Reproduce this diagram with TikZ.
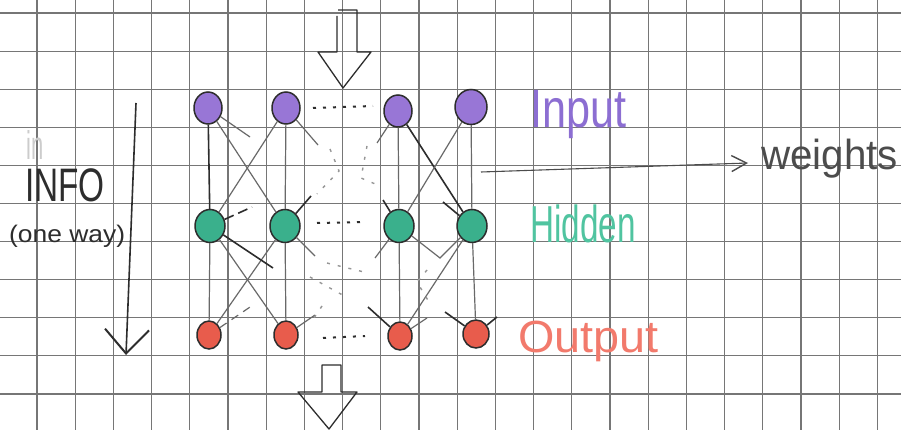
\documentclass[tikz,border=0pt]{standalone}
\usepackage{fontspec}
\setmainfont{Liberation Sans}
\usetikzlibrary{shapes.geometric,arrows.meta}

\definecolor{gridgray}{RGB}{118,118,118}
\definecolor{penink}{RGB}{45,45,45}
\definecolor{pencil}{RGB}{105,105,105}
\definecolor{inpfill}{RGB}{152,118,214}
\definecolor{hidfill}{RGB}{58,176,140}
\definecolor{outfill}{RGB}{232,92,76}
\definecolor{inptext}{RGB}{140,110,210}
\definecolor{hidtext}{RGB}{80,196,160}
\definecolor{outtext}{RGB}{242,122,108}

\tikzset{
  gridline/.style={draw=gridgray,line width=1.1pt},
  neuron/.style={ellipse,draw=penink,line width=1.5pt,inner sep=0pt},
  inp/.style={neuron,fill=inpfill,minimum width=28pt,minimum height=32pt},
  hid/.style={neuron,fill=hidfill,minimum width=30pt,minimum height=33pt},
  outn/.style={neuron,fill=outfill,minimum width=24pt,minimum height=28pt},
  wdark/.style={draw=penink,line width=1.6pt},
  wgray/.style={draw=pencil,line width=1.2pt},
  wdots/.style={draw=penink,line width=2pt,dash pattern=on 3pt off 7pt},
  wfaint/.style={draw=pencil!70,line width=1.4pt,dash pattern=on 3pt off 8pt},
  blockarrow/.style={draw=penink,line width=1.3pt,line join=round},
  label/.style={anchor=base west,inner sep=0pt},
}

\begin{document}
\begin{tikzpicture}[x=1pt,y=-1pt]
\useasboundingbox (0,0) rectangle (901,430);
\fill[white] (0,0) rectangle (901,430);

% squared paper
\foreach \i in {0,...,22} \draw[gridline] ({37+38.2*\i},0) -- ({37+38.2*\i},430);
\foreach \j in {0,...,11} \draw[gridline] (0,{13+38.1*\j}) -- (901,{13+38.1*\j});

% neurons
\node[inp] (i1) at (208,108) {};
\node[inp] (i2) at (286,108) {};
\node[inp] (i3) at (398,111) {};
\node[inp,minimum width=32pt,minimum height=35pt] (i4) at (471,107) {};
\node[hid] (h1) at (210,226) {};
\node[hid] (h2) at (285,226) {};
\node[hid] (h3) at (399,226) {};
\node[hid] (h4) at (472,226) {};
\node[outn] (o1) at (209,335) {};
\node[outn] (o2) at (286,335) {};
\node[outn] (o3) at (400,336) {};
\node[outn,minimum width=26pt] (o4) at (476,334) {};

% loose ends of the unfinished weight strokes
\coordinate (s1) at (250,137);
\coordinate (s2) at (318,145);
\coordinate (s3) at (377,143);
\coordinate (s4) at (383,200);
\coordinate (s5) at (252,207);
\coordinate (s6) at (311,196);
\coordinate (s7) at (443,202);
\coordinate (t1) at (273,268);
\coordinate (t2) at (315,256);
\coordinate (t3) at (375,258);
\coordinate (t4) at (440,258);
\coordinate (t6) at (368,307);
\coordinate (t7) at (445,312);
\coordinate (t8) at (253,305);
\coordinate (t9) at (315,315);
\coordinate (t10) at (427,318);
\coordinate (t11) at (497,317);

% input -> hidden weights
\draw[wdark] (i1) -- (h1);
\draw[wgray] (i1) -- (h2);
\draw[wgray] (i2) -- (h1);
\draw[wgray] (i2) -- (h2);
\draw[wgray] (i3) -- (h3);
\draw[wdark] (i3) -- (h4);
\draw[wgray] (i4) -- (h3);
\draw[wgray] (i4) -- (h4);
\draw[wgray] (i1) -- (s1);
\draw[wgray] (i2) -- (s2);
\draw[wgray] (i3) -- (s3);
\draw[wdark] (s4) -- (h3);
\draw[wdark,dash pattern=on 10pt off 5pt] (h1) -- (s5);
\draw[wdark] (h2) -- (s6);
\draw[wdark] (s7) -- (h4);

% hidden -> output weights
\draw[wgray] (h1) -- (o1);
\draw[wgray] (h1) -- (o2);
\draw[wgray] (h2) -- (o1);
\draw[wgray] (h2) -- (o2);
\draw[wgray] (h3) -- (o3);
\draw[wgray] (h4) -- (o3);
\draw[wgray] (h4) -- (o4);
\draw[wdark] (h1) -- (t1);
\draw[wgray] (h2) -- (t2);
\draw[wgray] (h3) -- (t3);
\draw[wgray] (h3) -- (t4) -- (h4);
\draw[wdark] (t6) -- (o3);
\draw[wdark] (t7) -- (o4);
\draw[wgray,dash pattern=on 8pt off 6pt] (o1) -- (t8);
\draw[wgray] (o2) -- (t9);
\draw[wgray] (o3) -- (t10);
\draw[wdark] (o4) -- (t11);

% elided neurons between the columns
\draw[wdots] (313,108) -- (373,106);
\draw[wdots] (317,223) -- (366,222);
\draw[wdots] (323,338) -- (365,336);

% elided weights in the middle
\draw[wfaint] (330,149) -- (339,171) -- (317,194);
\draw[wfaint] (367,146) -- (361,178) -- (380,186);
\draw[wfaint] (327,263) -- (364,272);
\draw[wfaint] (310,277) -- (348,298);
\draw[wfaint] (322,306) -- (314,318);
\draw[wfaint] (427,270) -- (417,282) -- (429,302);

% data flow block arrows
\draw[blockarrow] (337,16) -- (337,52) -- (318,52) -- (343,88) -- (371,52) -- (357,52) -- (357,10) -- (338,10);
\draw[blockarrow] (322,392) -- (322,365) -- (341,365) -- (341,392) -- (357,392) -- (329,429) -- (298,392) -- cycle;

% direction of information flow
\coordinate (flowtop) at (136,103);
\coordinate (flowbot) at (126,355);
\draw[penink,line width=1.6pt,-{Straight Barb[length=24pt,width=44pt,line width=2pt]}] (flowtop) -- (flowbot);
\node[label,text=gray!40,font=\fontsize{40}{40}\selectfont] (inword) at (26,160) {\scalebox{0.55}[1]{in}};
\node[label,text=penink,font=\fontsize{47}{47}\selectfont] (info) at (25,202) {\scalebox{0.71}[1]{INFO}};
\node[label,text=penink,font=\fontsize{24}{24}\selectfont] (oneway) at (9,243) {\scalebox{1.1}[1]{(one way)}};

% layer names
\node[label,text=inptext,font=\fontsize{54}{54}\selectfont] (lin) at (530,128) {\scalebox{0.8}[1]{Input}};
\node[label,text=hidtext,font=\fontsize{52}{52}\selectfont] (lhid) at (530,243) {\scalebox{0.64}[1]{Hidden}};
\node[label,text=outtext,font=\fontsize{45}{45}\selectfont] (lout) at (518,352) {\scalebox{1.04}[1]{Output}};

% weights annotation
\coordinate (wstart) at (481,172);
\node[label,text=penink!85,font=\fontsize{42}{42}\selectfont] (wlabel) at (761,170) {\scalebox{0.96}[1]{weights}};
\coordinate (wend) at (748,163);
\draw[penink!85,line width=1.1pt,-{Straight Barb[length=15pt,width=16pt,line width=1.4pt]}] (wstart) -- (wend);
\end{tikzpicture}
\end{document}
